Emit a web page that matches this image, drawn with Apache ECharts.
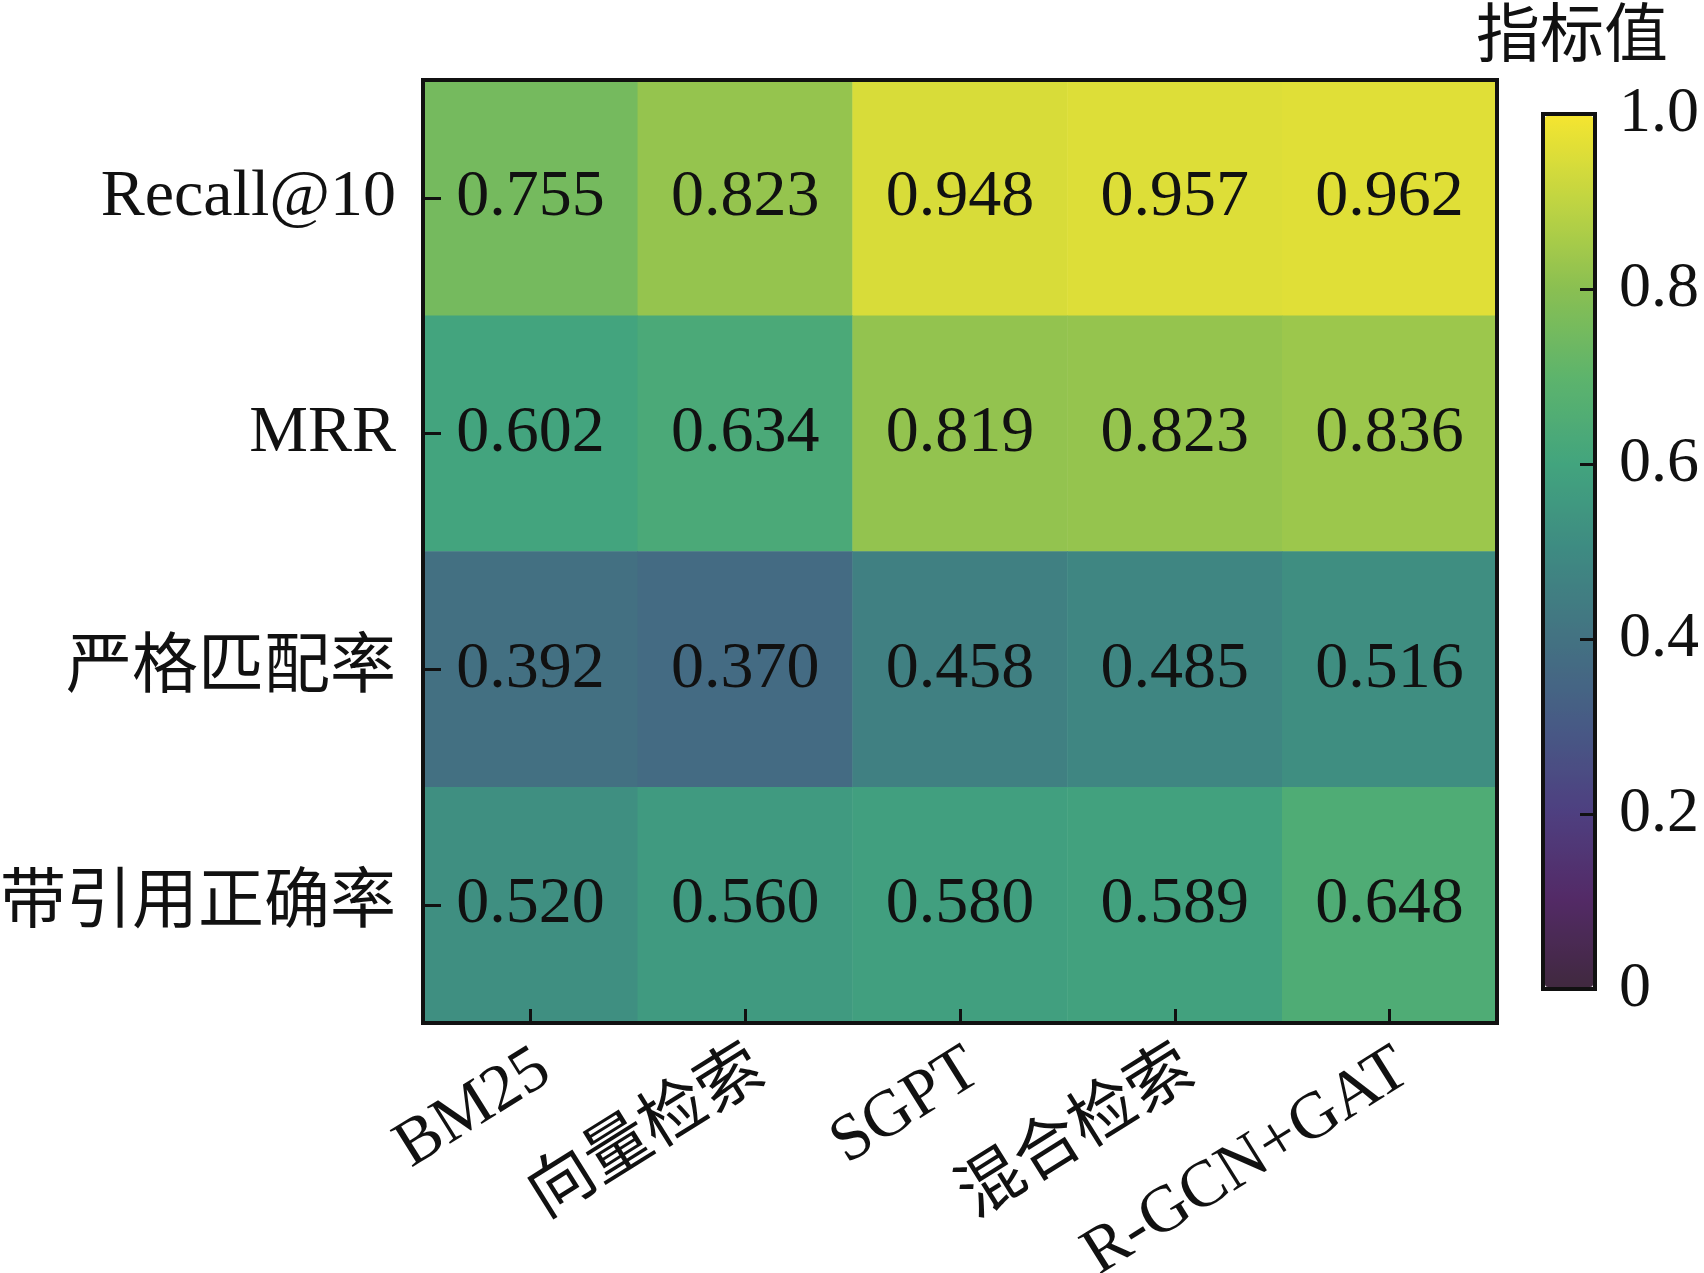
<!DOCTYPE html>
<html>
<head>
<meta charset="utf-8">
<title>检索方法指标热力图</title>
<script src="https://cdn.jsdelivr.net/npm/echarts@6/dist/echarts.min.js"></script>
<style>
  html, body { margin: 0; padding: 0; background: #fff; }
  #main { width: 1704px; height: 1273px; }
</style>
</head>
<body>
<div id="main"></div>
<script>
// 数据
const methods = ['BM25', '向量检索', 'SGPT', '混合检索', 'R-GCN+GAT'];
const metrics = ['Recall@10', 'MRR', '严格匹配率', '带引用正确率'];
const recallValues = [0.755, 0.823, 0.948, 0.957, 0.962];
const mrrValues = [0.602, 0.634, 0.819, 0.823, 0.836];
const strictValues = [0.392, 0.370, 0.458, 0.485, 0.516];
const citeValues = [0.520, 0.560, 0.580, 0.589, 0.648];

// 字体
const FONT = "'Times New Roman', 'Liberation Serif', 'Noto Sans CJK SC', serif";

// 颜色 (偏灰的 viridis)
const palette = ['#40293f', '#532a66', '#4e3f80', '#475a85', '#437282',
  '#3e8a82', '#42a47e', '#5db46c', '#89bf52', '#bfd442', '#f4e530'];

// 组装热力图数据 [x, y, value]
const rows = [recallValues, mrrValues, strictValues, citeValues];
const heatData = [];
rows.forEach((row, yi) => {
  row.forEach((v, xi) => heatData.push([xi, yi, v]));
});

const chart = echarts.init(document.getElementById('main'));

const option = {
  backgroundColor: '#fff',
  animation: false,
  title: {
    text: '指标值',
    left: 1471,
    top: 2,
    textStyle: { fontFamily: FONT, fontSize: 64, fontWeight: 'normal', color: '#111' }
  },
  grid: [
    {
      left: 423, right: 207, top: 80, bottom: 250,
      outerBoundsMode: 'none', containLabel: false,
      show: true, backgroundColor: 'transparent',
      borderColor: '#111', borderWidth: 4, z: 10
    },
    {
      // 色条外框
      left: 1543, top: 114, width: 52, height: 875,
      outerBoundsMode: 'none', containLabel: false,
      show: true, backgroundColor: 'transparent',
      borderColor: '#111', borderWidth: 4, z: 10
    }
  ],
  xAxis: [
    {
      type: 'category',
      gridIndex: 0,
      data: methods,
      z: 10,
      axisLine: { show: false, onZero: false },
      axisTick: { show: true, inside: true, alignWithLabel: true, length: 14,
        lineStyle: { color: '#111', width: 3 } },
      axisLabel: {
        rotate: 32, margin: 50, padding: [0, -17, 0, 0],
        interval: 0,
        fontFamily: FONT, fontSize: 66, color: '#111'
      },
      splitLine: { show: false }
    },
    {
      type: 'value',
      gridIndex: 1,
      show: false,
      axisLine: { onZero: false }
    }
  ],
  yAxis: [
    {
      type: 'category',
      gridIndex: 0,
      data: metrics,
      inverse: true,
      z: 10,
      axisLine: { show: false, onZero: false },
      axisTick: { show: true, inside: true, alignWithLabel: true, length: 18,
        lineStyle: { color: '#111', width: 3 } },
      axisLabel: { margin: 27, fontFamily: FONT, fontSize: 66, color: '#111' },
      splitLine: { show: false }
    },
    {
      // 色条刻度
      type: 'value',
      gridIndex: 1,
      position: 'right',
      min: 0, max: 1, interval: 0.2,
      z: 10,
      axisLine: { show: false, onZero: false },
      axisTick: { show: true, inside: true, length: 15,
        lineStyle: { color: '#111', width: 3 } },
      axisLabel: {
        margin: 24, fontFamily: FONT, fontSize: 64, color: '#111',
        formatter: v => (v === 0 ? '0' : v.toFixed(1))
      },
      splitLine: { show: false }
    }
  ],
  visualMap: {
    type: 'continuous',
    seriesIndex: 0,
    min: 0, max: 1,
    calculable: false,
    showLabel: false,
    orient: 'vertical',
    left: 1545, top: 116,
    padding: 0,
    itemWidth: 48, itemHeight: 871,
    inRange: { color: palette }
  },
  series: [
    {
      type: 'heatmap',
      xAxisIndex: 0,
      yAxisIndex: 0,
      data: heatData,
      label: {
        show: true,
        fontFamily: FONT, fontSize: 66, color: '#111',
        formatter: p => p.value[2].toFixed(3)
      },
      emphasis: { disabled: true }
    }
  ]
};

chart.setOption(option);
</script>
</body>
</html>
